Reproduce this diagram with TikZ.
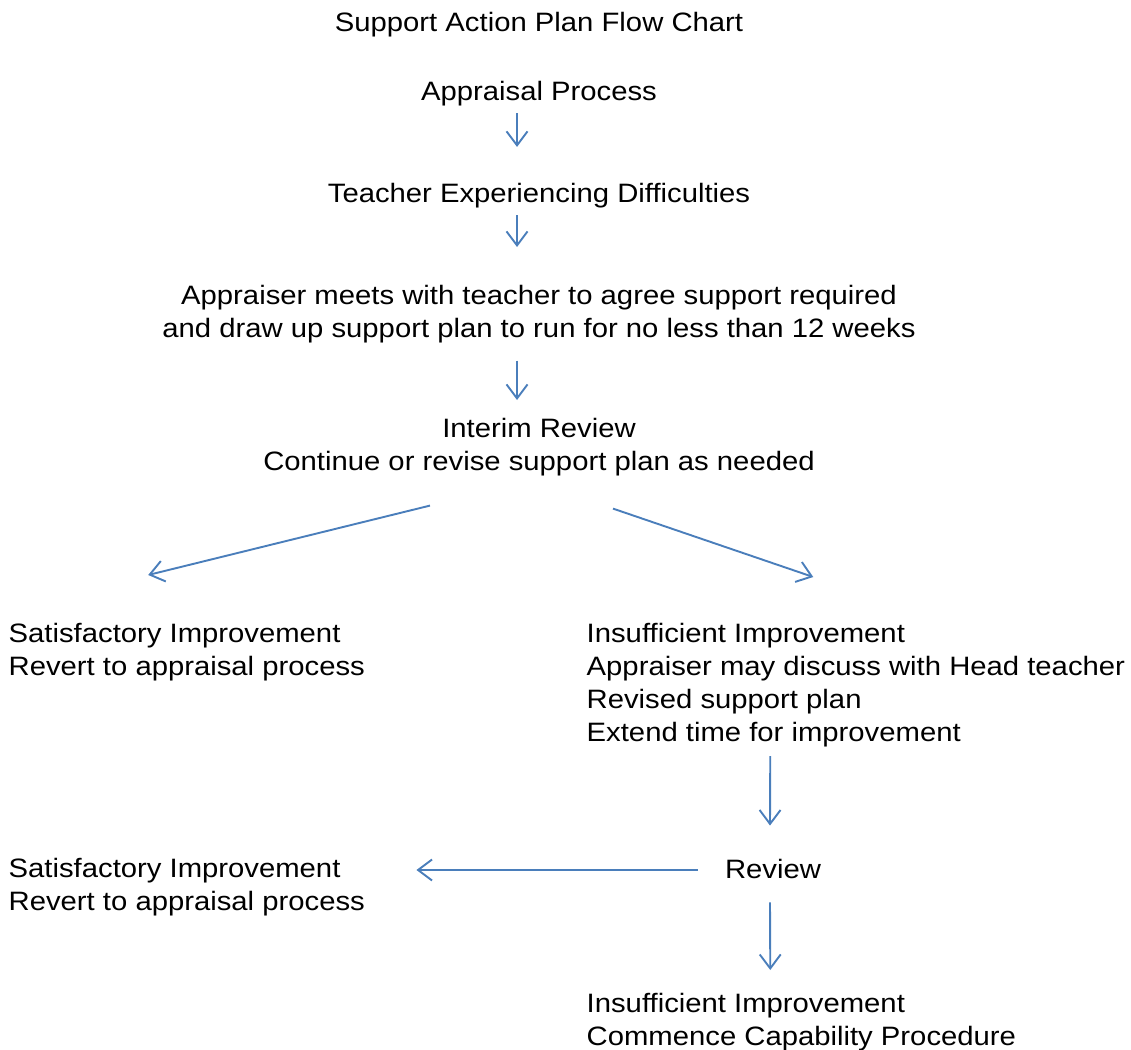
\documentclass[tikz,border=0pt]{standalone}
\usepackage{fontspec}
\setmainfont[FakeStretch=1.1]{Liberation Sans}
\usetikzlibrary{arrows.meta}
\definecolor{arrowblue}{HTML}{4A7EBB}
\begin{document}
\begin{tikzpicture}[x=1pt,y=-1pt]
		\tikzstyle{txt}=[inner sep=0pt,font=\fontsize{26.6}{33}\selectfont]
		\tikzstyle{centred}=[txt,align=center,anchor=north]
		\tikzstyle{block}=[txt,align=left,anchor=north west]
		\tikzstyle{flow}=[draw=arrowblue,line width=1.9pt,-{Straight Barb[length=14pt,width=21pt]}]
		\useasboundingbox (0,0) rectangle (1131,1049);
		\begin{scope}
			\node [txt,anchor=base] (title) at (539,32) {Support Action Plan Flow Chart};
			\node [txt,anchor=base] (ap) at (539,100) {Appraisal Process};
			\node [txt,anchor=base] (td) at (539,202) {Teacher Experiencing Difficulties};
			\node [centred] (am) at (539,285) {Appraiser meets with teacher to agree support required\\and draw up support plan to run for no less than 12 weeks};
			\node [centred] (iv) at (539,418) {Interim Review\\Continue or revise support plan as needed};
			\node [block] (sl) at (8.5,622.6) {Satisfactory Improvement\\Revert to appraisal process};
			\node [block] (ir) at (586.5,622.6) {Insufficient Improvement\\Appraiser may discuss with Head teacher\\Revised support plan\\Extend time for improvement};
			\node [txt,anchor=base] (rv) at (773,878) {Review};
			\node [block] (sl2) at (8.5,857.6) {Satisfactory Improvement\\Revert to appraisal process};
			\node [block] (ib) at (586.5,992.6) {Insufficient Improvement\\Commence Capability Procedure};
			\path[flow] ([shift={(-22,7.4)}]ap.south) -- ([shift={(-22,-35.6)}]td.north);
			\path[flow] ([shift={(-22,7.4)}]td.south) -- ([shift={(-22,-38)}]am.north);
			\path[flow] ([shift={(-22,17.4)}]am.south) -- ([shift={(-22,-18)}]iv.north);
			\path[flow] ([shift={(-109,29.4)}]iv.south) -- ([shift={(-38.6,-47.6)}]sl.north);
			\path[flow] ([shift={(74,32.4)}]iv.south) -- ([shift={(-42.6,-45.6)}]ir.north);
			\path[flow] ([shift={(-85.6,9.4)}]ir.south) -- ([shift={(-3,-33)}]rv.north);
			\path[flow] ([shift={(-27,1.5)}]rv.west) coordinate (rvw) -- ([xshift=51.4pt]sl2.east |- rvw);
			\path[flow] ([shift={(-3,24)}]rv.south) -- ([shift={(-31.1,-22.6)}]ib.north);
		\end{scope}
\end{tikzpicture}
\end{document}
